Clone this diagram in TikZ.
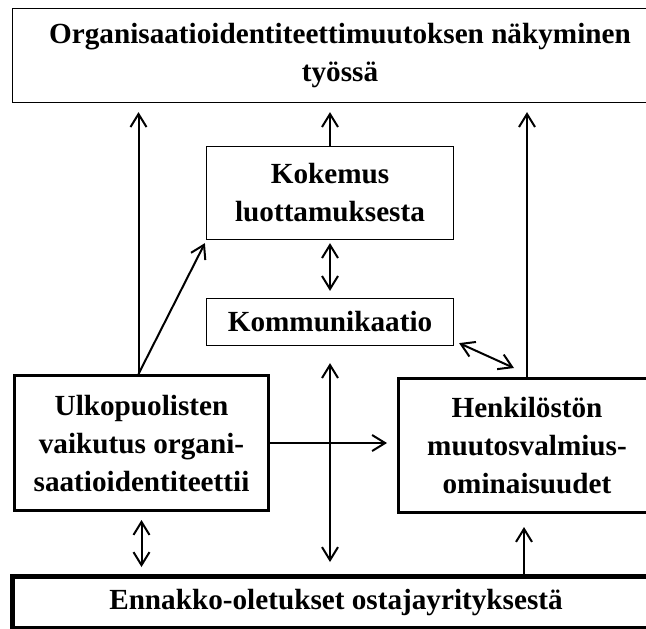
\documentclass[tikz,border=0pt]{standalone}
\usepackage{fontspec}
\setmainfont{Liberation Serif}
\usetikzlibrary{arrows.meta}

\begin{document}
\begin{tikzpicture}[x=0.5pt, y=-0.5pt,
        box/.style={draw, line width=0.6pt, align=center, inner sep=0pt,
            font=\bfseries\fontsize{14.6}{19}\selectfont},
        thickbox/.style={box, line width=1.7pt},
        basebox/.style={box, line width=2.5pt},
        arr/.style={line width=1pt, -{Straight Barb[length=6.5pt,width=8pt]}},
        darr/.style={line width=1pt, {Straight Barb[length=6.5pt,width=8pt]}-{Straight Barb[length=6.5pt,width=8pt]}}]
        \useasboundingbox (0,0) rectangle (646,628);
        \clip (0,0) rectangle (646,628);
        % boxes
        \node[box, minimum width=327.5pt, minimum height=47pt] (nakyminen) at (340,55.5)
            {Organisaatioidentiteettimuutoksen näkyminen\\työssä};
        \node[box, minimum width=123.5pt, minimum height=46.5pt] (luottamus) at (330,193)
            {Kokemus\\luottamuksesta};
        \node[box, minimum width=123.5pt, minimum height=23.5pt] (kommunikaatio) at (330,322)
            {Kommunikaatio};
        \node[thickbox, minimum width=126.8pt, minimum height=67.3pt] (ulkopuoliset) at (141.5,443)
            {Ulkopuolisten\\vaikutus organi-\\saatioidentiteettii};
        \node[thickbox, minimum width=128.3pt, minimum height=66.8pt] (henkilosto) at (527,445.5)
            {Henkilöstön\\muutosvalmius-\\ominaisuudet};
        \node[basebox, minimum width=323.5pt, minimum height=26pt] (oletukset) at (336,602.5)
            {Ennakko-oletukset ostajayrityksestä};

        % arrows
        \draw[arr] ([xshift=-1.5pt]ulkopuoliset.north) -- ([xshift=-1.5pt, yshift=-4.5pt]ulkopuoliset.north |- nakyminen.south);
        \draw[arr] (luottamus.north) -- ([yshift=-4.5pt]luottamus.north |- nakyminen.south);
        \draw[arr] (henkilosto.north) -- ([yshift=-4.5pt]henkilosto.north |- nakyminen.south);
        \draw[arr] ([xshift=-1.5pt]ulkopuoliset.north) -- ([shift={(-0.5pt,-1.5pt)}]luottamus.south west);
        \draw[darr] ([yshift=-1.5pt]luottamus.south) -- ([yshift=3.5pt]kommunikaatio.north);
        \draw[darr] ([shift={(2.5pt,1.5pt)}]kommunikaatio.south east) -- ([shift={(-6.5pt,4.5pt)}]henkilosto.north);
        \draw[darr] ([yshift=-8.5pt]kommunikaatio.south) -- ([yshift=6pt]kommunikaatio.south |- oletukset.north);
        \draw[arr] (ulkopuoliset.east) -- ([xshift=-5pt]ulkopuoliset.east -| henkilosto.west);
        \draw[darr] ([yshift=-4pt]ulkopuoliset.south) -- ([yshift=3.5pt]ulkopuoliset.south |- oletukset.north);
        \draw[arr] ([xshift=-1.5pt]henkilosto.south |- oletukset.north) -- ([xshift=-1.5pt, yshift=-6.5pt]henkilosto.south);
\end{tikzpicture}
\end{document}
